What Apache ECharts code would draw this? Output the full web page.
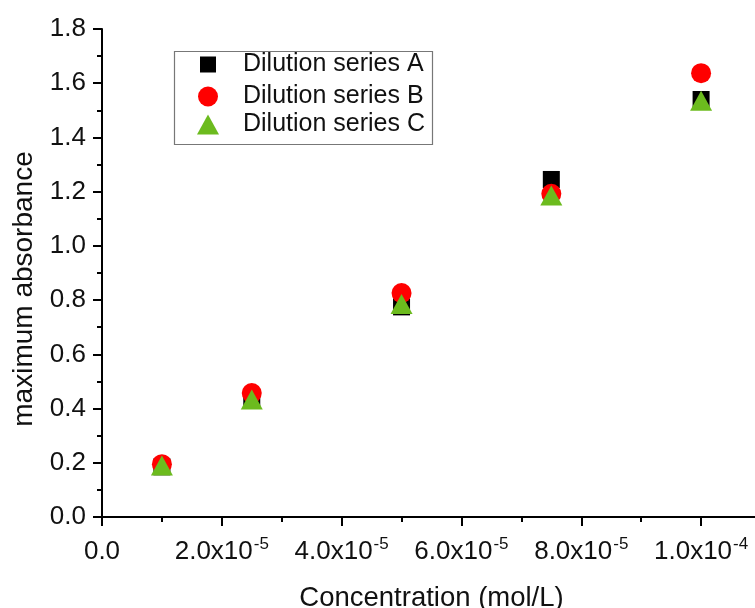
<!DOCTYPE html>
<html>
<head>
<meta charset="utf-8">
<script src="https://cdn.jsdelivr.net/npm/echarts@6/dist/echarts.min.js"></script>
<style>
  html, body { margin: 0; padding: 0; background: #fff; }
  #chart { width: 755px; height: 608px; }
</style>
</head>
<body>
<div id="chart"></div>
<script>
// Concentration of each dilution step (mol/L)
const concentration = [1e-5, 2.5e-5, 5e-5, 7.5e-5, 1e-4];

// Maximum absorbance measured for each dilution series
const seriesA = [0.185, 0.43, 0.775, 1.245, 1.54];
const seriesB = [0.195, 0.457, 0.826, 1.192, 1.637];
const seriesC = [0.19, 0.433, 0.786, 1.186, 1.535];

const seriesNames = ['Dilution series A', 'Dilution series B', 'Dilution series C'];

// x-axis tick labels: mantissa and power of ten
const xTickValues = [0, 2e-5, 4e-5, 6e-5, 8e-5, 1e-4];
const xTickMantissa = ['0.0', '2.0x10', '4.0x10', '6.0x10', '8.0x10', '1.0x10'];
const xTickExponent = ['', '-5', '-5', '-5', '-5', '-4'];

const FONT = 'Liberation Sans, Arial, sans-serif';

function pairs(ys) {
  return concentration.map((x, i) => [x, ys[i]]);
}

function xLabel(value) {
  const i = xTickValues.findIndex(v => Math.abs(v - value) < 1e-9);
  if (i < 0) return '';
  if (!xTickExponent[i]) return '{b|' + xTickMantissa[i] + '}';
  return '{b|' + xTickMantissa[i] + '}{s|' + xTickExponent[i] + '}';
}

const chart = echarts.init(document.getElementById('chart'), null, { renderer: 'canvas' });

const axisCommon = {
  axisLine: { show: true, lineStyle: { color: '#000', width: 2 } },
  axisTick: { show: true, inside: false, length: 9, lineStyle: { color: '#000', width: 2 } },
  minorTick: { show: true, splitNumber: 2, length: 5, lineStyle: { color: '#000', width: 2 } },
  splitLine: { show: false },
  nameLocation: 'middle'
};

function legendFor(name, top, size, iconW, textPad) {
  return {
    data: [name],
    orient: 'vertical',
    left: 208 - iconW / 2,
    top: top,
    padding: 0,
    itemWidth: iconW,
    itemHeight: size,
    selectedMode: false,
    textStyle: { fontFamily: FONT, fontSize: 25, color: '#111', padding: [0, 0, 0, textPad] }
  };
}

chart.setOption({
  backgroundColor: '#fff',
  animation: false,
  // the x axis runs on past the right edge of the canvas
  grid: { left: 102, top: 29, width: 659, height: 488, containLabel: false, outerBoundsMode: 'none' },
  xAxis: Object.assign({}, axisCommon, {
    type: 'value',
    min: 0,
    max: 1.1e-4,
    interval: 2e-5,
    name: 'Concentration (mol/L)',
    nameGap: 67,
    nameTextStyle: { fontFamily: FONT, fontSize: 27.5, color: '#111' },
    axisLabel: {
      margin: 20,
      showMaxLabel: false,
      formatter: xLabel,
      rich: {
        b: { fontFamily: FONT, fontSize: 26, color: '#111', lineHeight: 30 },
        s: { fontFamily: FONT, fontSize: 17, color: '#111', lineHeight: 30, padding: [0, 0, 16, 1] }
      }
    }
  }),
  yAxis: Object.assign({}, axisCommon, {
    type: 'value',
    min: 0,
    max: 1.8,
    interval: 0.2,
    name: 'maximum absorbance',
    nameGap: 64,
    nameTextStyle: { fontFamily: FONT, fontSize: 28, color: '#111', padding: [0, 32, 0, 0] },
    axisLabel: {
      margin: 16,
      fontFamily: FONT,
      fontSize: 26,
      color: '#111',
      formatter: v => v.toFixed(1)
    }
  }),
  legend: [
    legendFor(seriesNames[0], 52, 16, 16, 22),
    legendFor(seriesNames[1], 84, 20, 20, 20),
    legendFor(seriesNames[2], 112, 20, 22, 19)
  ],
  graphic: [{
    type: 'rect',
    left: 172, top: 49,
    shape: { width: 258, height: 93 },
    style: { fill: 'none', stroke: '#777', lineWidth: 1.2 },
    z: 1
  }],
  series: [
    {
      name: seriesNames[0], type: 'scatter', symbol: 'rect', symbolSize: 17,
      itemStyle: { color: '#000', opacity: 1 }, data: pairs(seriesA), z: 2
    },
    {
      name: seriesNames[1], type: 'scatter', symbol: 'circle', symbolSize: 20,
      itemStyle: { color: '#ff0000', opacity: 1 }, data: pairs(seriesB), z: 3
    },
    {
      name: seriesNames[2], type: 'scatter', symbol: 'triangle', symbolSize: [22, 20],
      itemStyle: { color: '#6cbb1e', opacity: 1 }, data: pairs(seriesC), z: 4
    }
  ]
});
</script>
</body>
</html>
